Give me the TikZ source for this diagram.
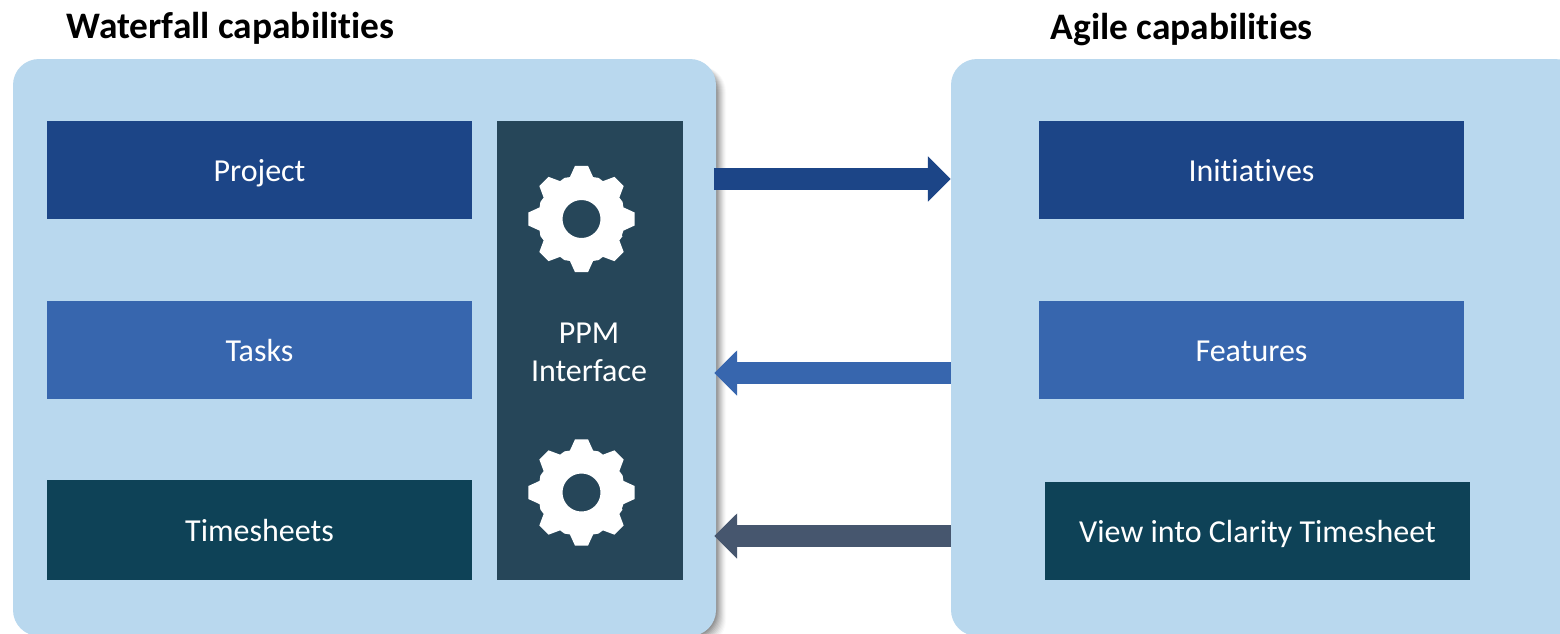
\documentclass[tikz,border=0pt]{standalone}
\usepackage{fontspec}
\setmainfont[Ligatures=NoCommon]{Carlito}
\usetikzlibrary{arrows.meta}
\definecolor{panelc}{HTML}{B9D8EE}
\definecolor{navyc}{HTML}{1C4587}
\definecolor{midc}{HTML}{3766AE}
\definecolor{tealc}{HTML}{0E4257}
\definecolor{ppmc}{HTML}{264659}
\definecolor{slatec}{HTML}{46566E}
\tikzset{
  panel/.style={fill=panelc,draw=none,rounded corners=26pt},
  item/.style={draw=none,minimum width=425pt,inner sep=0pt,text=white,font=\fontsize{32}{38}\selectfont,align=center,text height=22pt,text depth=0pt},
  title/.style={font=\fontsize{37.4}{44}\selectfont\bfseries,text=black,inner sep=0pt},
  flow/.style={line width=22pt,-{Triangle[length=23pt,width=44pt]}},
  gearshape/.pic={
    \fill[white,even odd rule]
      (-22.5:43.5pt)
      \foreach \a in {0,45,...,315} {
        -- ({\a-15.5}:43.5pt) -- ({\a-7}:53.5pt) -- ({\a+7}:53.5pt) -- ({\a+15.5}:43.5pt) -- ({\a+22.5}:44.5pt)
      } -- cycle
      (0,0) circle[radius=19pt];
  }
}
\begin{document}
\begin{tikzpicture}[x=1pt,y=-1pt]
\useasboundingbox (0,0) rectangle (1560,633);
\fill[white] (0,0) rectangle (1560,633);
% soft shadow of the left panel, to the right and below only
\foreach \d/\o in {9/0.02,8/0.03,7/0.03,6/0.04,5/0.05,4/0.05,3/0.06,2/0.07,1/0.08,0/0.08}{
  \fill[black,opacity=\o,rounded corners=26pt] (40,66) rectangle (717+\d,637+\d);
}
\node[panel,minimum width=703pt,minimum height=577pt,inner sep=0pt] (lp) at (364.5,347.5) {};
\node[panel,minimum width=630pt,minimum height=577pt,inner sep=0pt] (rp) at (1266,347.5) {};
\node[title,anchor=west] (lt) at (66.5,28) {Waterfall capabilities};
\node[title,anchor=west] (rt) at (1050.5,30) {Agile capabilities};
\node[item,fill=navyc,minimum height=98pt] (project) at (259.5,170) {Project};
\node[item,fill=midc,minimum height=98pt] (tasks) at (259.5,350) {Tasks};
\node[item,fill=tealc,minimum height=100pt] (times) at (259.5,530) {Timesheets};
\node[item,fill=ppmc,minimum width=186pt,minimum height=459pt] (ppm) at (590,350.5) {};
\node[text=white,font=\fontsize{32}{38}\selectfont,align=center,inner sep=0pt] (ppmt) at (589,352) {PPM\\Interface};
\pic at (581.5,219) {gearshape};
\pic at (581.5,492.5) {gearshape};
\node[item,fill=navyc,minimum height=98pt] (init) at (1251.5,170) {Initiatives};
\node[item,fill=midc,minimum height=98pt] (feat) at (1251.5,350) {Features};
\node[item,fill=tealc,minimum height=98pt] (view) at (1257.5,531) {View into Clarity Timesheet};
\coordinate (a1) at (0,179);
\coordinate (a2) at (0,373);
\coordinate (a3) at (0,536);
\draw[flow,navyc,shorten <=-2pt] (lp.east |- a1) -- (rp.west |- a1);
\draw[flow,midc,shorten >=-2pt] (rp.west |- a2) -- (lp.east |- a2);
\draw[flow,slatec,shorten >=-2pt] (rp.west |- a3) -- (lp.east |- a3);
\end{tikzpicture}
\end{document}
